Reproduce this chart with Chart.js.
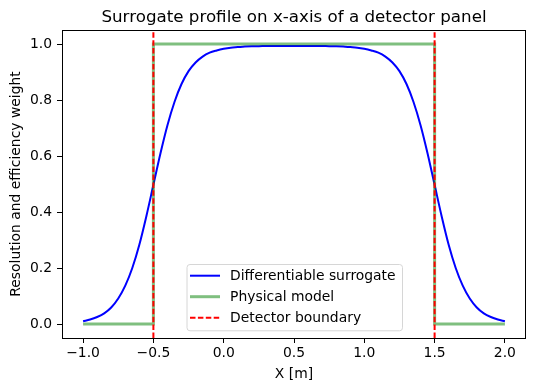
<!DOCTYPE html>
<html>
<head>
<meta charset="utf-8">
<script src="https://cdn.jsdelivr.net/npm/chart.js@4.4.1/dist/chart.umd.min.js"></script>
<style>
  html, body { margin: 0; padding: 0; background: #fff; }
  #wrap { width: 536px; height: 391px; }
</style>
</head>
<body>
<div id="wrap"><canvas id="chart" width="536" height="391"></canvas></div>
<script>
// values
const surrX = [-1.00, -0.95, -0.90, -0.85, -0.80, -0.75, -0.70, -0.65, -0.60, -0.55,
               -0.50, -0.45, -0.40, -0.35, -0.30, -0.25, -0.20, -0.15, -0.10, -0.05,
                0.00,  0.05,  0.10,  0.15,  0.20,  0.25,  0.30,  0.35,  0.40,  0.45,
                0.50,  0.55,  0.60,  0.65,  0.70,  0.75,  0.80,  0.85,  0.90,  0.95,
                1.00,  1.05,  1.10,  1.15,  1.20,  1.25,  1.30,  1.35,  1.40,  1.45,
                1.50,  1.55,  1.60,  1.65,  1.70,  1.75,  1.80,  1.85,  1.90,  1.95, 2.00];
const surrY = [0.010, 0.016, 0.025, 0.038, 0.059, 0.091, 0.137, 0.200, 0.283, 0.385,
               0.497, 0.609, 0.710, 0.793, 0.857, 0.903, 0.934, 0.955, 0.969, 0.977,
               0.983, 0.987, 0.989, 0.991, 0.992, 0.992, 0.993, 0.993, 0.993, 0.993,
               0.993, 0.993, 0.993, 0.993, 0.993, 0.992, 0.992, 0.991, 0.989, 0.987,
               0.983, 0.977, 0.969, 0.955, 0.934, 0.903, 0.857, 0.793, 0.710, 0.609,
               0.497, 0.385, 0.283, 0.200, 0.137, 0.091, 0.059, 0.038, 0.025, 0.016, 0.010];

const physX = [-1.0, -0.5, -0.5, 1.5, 1.5, 2.0];
const physY = [0, 0, 1, 1, 0, 0];

const boundaries = [-0.5, 1.5];

const xTicks = [-1.0, -0.5, 0.0, 0.5, 1.0, 1.5, 2.0];
const yTicks = [0.0, 0.2, 0.4, 0.6, 0.8, 1.0];

const xRange = [-1.15, 2.15];
const yRange = [-0.05, 1.05];

const FONT = "'DejaVu Sans', sans-serif";
const FS = 13.9;

let toPts = (xs, ys) => xs.map((x, i) => ({x: x, y: ys[i]}));
let fmt = v => v.toFixed(1).replace('-', '\u2212');

let datasets = [{
    label: 'Differentiable surrogate',
    data: toPts(surrX, surrY),
    borderColor: '#0000ff',
    borderWidth: 2,
    cubicInterpolationMode: 'monotone',
    order: 3
}, {
    label: 'Physical model',
    data: toPts(physX, physY),
    borderColor: 'rgba(0,128,0,0.5)',
    borderWidth: 3,
    order: 2
}];
boundaries.forEach((b, i) => {
    datasets.push({
        label: i === 0 ? 'Detector boundary' : '',
        data: [{x: b, y: yRange[0]}, {x: b, y: yRange[1]}],
        borderColor: '#ff0000',
        borderWidth: 2,
        borderDash: [5.5, 2.4],
        order: 1
    });
});

// frame, titles and legend drawn like matplotlib
let decor = {
    id: 'decor',
    afterDatasetsDraw(chart) {
        let ctx = chart.ctx;
        let a = chart.chartArea;
        ctx.save();
        ctx.strokeStyle = '#000';
        ctx.lineWidth = 1;
        ctx.strokeRect(Math.round(a.left) + 0.5, Math.round(a.top) + 0.5,
            Math.round(a.right - a.left) - 1, Math.round(a.bottom - a.top));

        ctx.fillStyle = '#000';
        ctx.textAlign = 'center';
        ctx.textBaseline = 'alphabetic';
        ctx.font = '16.7px ' + FONT;
        ctx.fillText('Surrogate profile on x-axis of a detector panel', (a.left + a.right) / 2, 21.7);
        ctx.textBaseline = 'middle';
        ctx.font = FS + 'px ' + FONT;
        ctx.fillText('X [m]', (a.left + a.right) / 2, 374);
        ctx.save();
        ctx.translate(16, (a.top + a.bottom) / 2);
        ctx.rotate(-Math.PI / 2);
        ctx.fillText('Resolution and efficiency weight', 0, 0);
        ctx.restore();

        // legend box
        let bx = 187, by = 264.5, bw = 215.5, bh = 66.3, r = 3;
        ctx.beginPath();
        ctx.moveTo(bx + r, by);
        ctx.arcTo(bx + bw, by, bx + bw, by + bh, r);
        ctx.arcTo(bx + bw, by + bh, bx, by + bh, r);
        ctx.arcTo(bx, by + bh, bx, by, r);
        ctx.arcTo(bx, by, bx + bw, by, r);
        ctx.closePath();
        ctx.fillStyle = 'rgba(255,255,255,0.8)';
        ctx.fill();
        ctx.strokeStyle = '#d6d6d6';
        ctx.lineWidth = 1;
        ctx.stroke();

        let rows = chart.data.datasets.filter(d => d.label);
        ctx.textAlign = 'left';
        rows.forEach((d, i) => {
            let y = 275.7 + i * 21;
            ctx.beginPath();
            ctx.strokeStyle = d.borderColor;
            ctx.lineWidth = d.borderWidth;
            ctx.setLineDash(d.borderDash || []);
            ctx.moveTo(190, y);
            ctx.lineTo(220, y);
            ctx.stroke();
            ctx.setLineDash([]);
            ctx.fillStyle = '#000';
            ctx.fillText(d.label, 230, y + 0.5);
        });
        ctx.restore();
    }
};

let axisGrid = {
    display: true,
    drawOnChartArea: false,
    drawTicks: true,
    tickLength: 5,
    color: '#000',
    lineWidth: 1
};

new Chart(document.getElementById('chart'), {
    type: 'line',
    data: {datasets: datasets},
    options: {
        responsive: false,
        animation: false,
        devicePixelRatio: 1,
        layout: {padding: {left: 0, right: 10, top: 30, bottom: 0}},
        elements: {point: {radius: 0}},
        plugins: {legend: {display: false}, tooltip: {enabled: false}},
        scales: {
            x: {
                type: 'linear',
                min: xRange[0],
                max: xRange[1],
                afterBuildTicks: s => { s.ticks = xTicks.map(v => ({value: v})); },
                afterFit: s => { s.height = 53; },
                grid: axisGrid,
                border: {display: false},
                ticks: {
                    color: '#000',
                    font: {family: FONT, size: FS},
                    padding: 2,
                    maxRotation: 0,
                    callback: v => fmt(v)
                }
            },
            y: {
                type: 'linear',
                min: yRange[0],
                max: yRange[1],
                afterBuildTicks: s => { s.ticks = yTicks.map(v => ({value: v})); },
                afterFit: s => { s.width = 62; },
                grid: axisGrid,
                border: {display: false},
                ticks: {
                    color: '#000',
                    font: {family: FONT, size: FS},
                    padding: 5,
                    callback: v => fmt(v)
                }
            }
        }
    },
    plugins: [decor]
});
</script>
</body>
</html>
